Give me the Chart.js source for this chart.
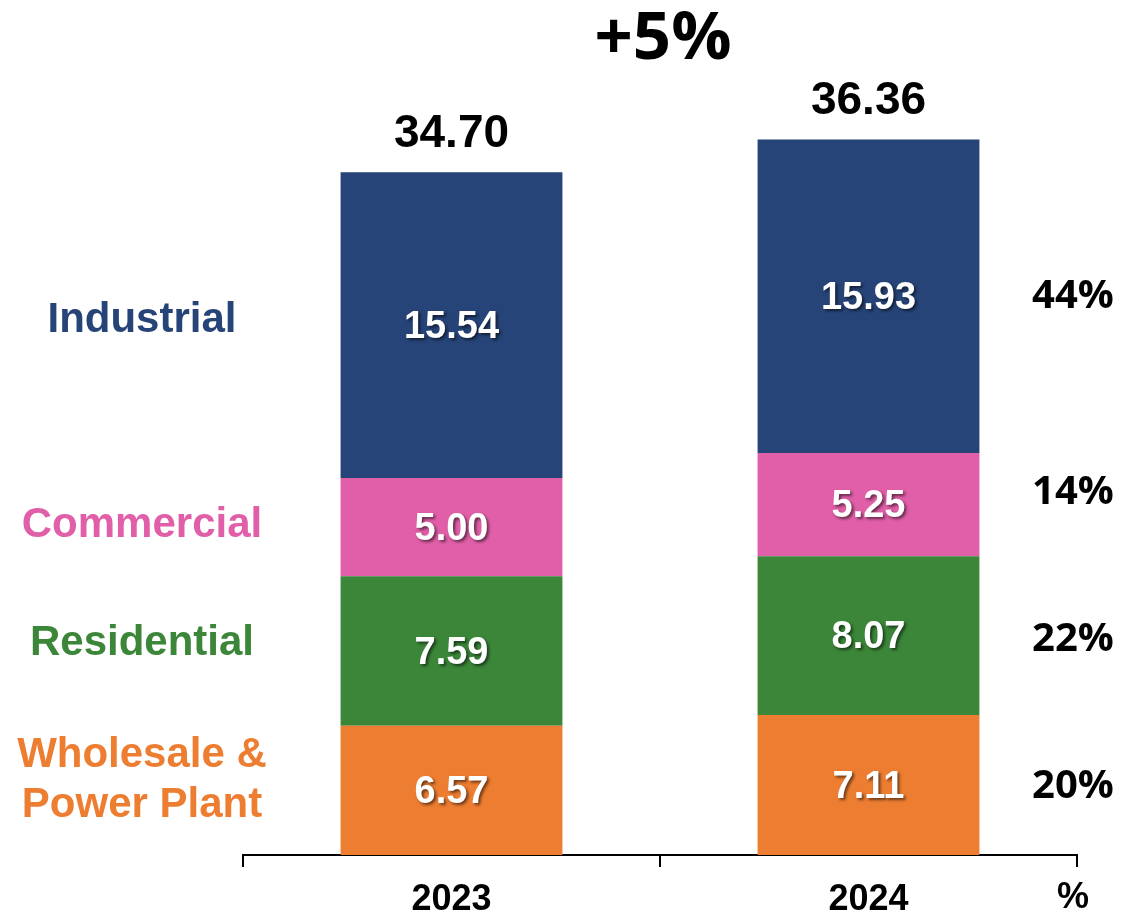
<!DOCTYPE html>
<html>
<head>
<meta charset="utf-8">
<script src="https://cdn.jsdelivr.net/npm/chart.js@4.4.1/dist/chart.umd.min.js"></script>
<style>
  html, body { margin: 0; padding: 0; background: #fff; overflow: hidden; }
  canvas { display: block; }
</style>
</head>
<body>
<canvas id="c" width="1124" height="933"></canvas>
<script>
const years = ['2023', '2024'];
const wholesale = [6.57, 7.11];
const residential = [7.59, 8.07];
const commercial = [5.00, 5.25];
const industrial = [15.54, 15.93];
const totals = [34.70, 36.36];
const shareLabels2024 = ['20%', '22%', '14%', '44%'];
const growthLabel = '+5%';
const unitLabel = '%';
const seriesNames = [['Wholesale &', 'Power Plant'], ['Residential'], ['Commercial'], ['Industrial']];
const seriesColors = ['#ED7D31', '#3B8638', '#E05FA8', '#264478'];

const ARIAL = '"Liberation Sans", Arial, sans-serif';
const OPEN = '"Open Sans", sans-serif';

const labelPlugin = {
  id: 'labels',
  afterDatasetsDraw(chart) {
    const ctx = chart.ctx;
    const n = chart.data.datasets.length;
    ctx.save();
    ctx.textAlign = 'center';
    ctx.textBaseline = 'middle';
    for (let i = 0; i < n; i++) {
      const meta = chart.getDatasetMeta(i);
      meta.data.forEach((el, j) => {
        const v = chart.data.datasets[i].data[j];
        const cy = (el.y + el.base) / 2;
        ctx.save();
        ctx.font = 'bold 38px ' + ARIAL;
        ctx.fillStyle = '#fff';
        ctx.shadowColor = 'rgba(0,0,0,0.55)';
        ctx.shadowOffsetX = 2;
        ctx.shadowOffsetY = 2;
        ctx.shadowBlur = 3;
        ctx.fillText(v.toFixed(2), el.x, cy + 2);
        ctx.restore();
      });
    }
    const top = chart.getDatasetMeta(n - 1);
    top.data.forEach((el, j) => {
      ctx.font = 'bold 46px ' + ARIAL;
      ctx.fillStyle = '#000';
      ctx.fillText(totals[j].toFixed(2), el.x, el.y - 38);
    });
    const leftOffsets = [-10, -8, -2, -5];
    for (let i = 0; i < n; i++) {
      const el = chart.getDatasetMeta(i).data[0];
      const cy = (el.y + el.base) / 2 + leftOffsets[i];
      const lines = seriesNames[i];
      ctx.font = 'bold 42px ' + ARIAL;
      ctx.fillStyle = seriesColors[i];
      const lh = 50;
      lines.forEach((ln, k) => {
        ctx.fillText(ln, 142, cy + (k - (lines.length - 1) / 2) * lh);
      });
    }
    const rightOffsets = [2, 4, -12, 0];
    for (let i = 0; i < n; i++) {
      const el = chart.getDatasetMeta(i).data[1];
      const cy = (el.y + el.base) / 2 + rightOffsets[i];
      ctx.font = 'bold 40px ' + OPEN;
      ctx.fillStyle = '#000';
      ctx.fillText(shareLabels2024[i], 1073, cy);
    }
    ctx.font = 'bold 67px ' + OPEN;
    ctx.fillStyle = '#000';
    ctx.fillText(growthLabel, 663, 40);
    ctx.font = 'bold 36px ' + ARIAL;
    ctx.fillText(unitLabel, 1073, 898);
    ctx.restore();
  }
};

new Chart(document.getElementById('c'), {
  type: 'bar',
  data: {
    labels: years,
    datasets: [
      { label: 'Wholesale & Power Plant', data: wholesale, backgroundColor: seriesColors[0] },
      { label: 'Residential', data: residential, backgroundColor: seriesColors[1] },
      { label: 'Commercial', data: commercial, backgroundColor: seriesColors[2] },
      { label: 'Industrial', data: industrial, backgroundColor: seriesColors[3] }
    ]
  },
  options: {
    responsive: false,
    animation: false,
    devicePixelRatio: 1,
    layout: { padding: { left: 243, right: 47, top: 0, bottom: 0 } },
    datasets: { bar: { categoryPercentage: 1.0, barPercentage: 0.532, borderWidth: 0 } },
    plugins: { legend: { display: false }, tooltip: { enabled: false } },
    scales: {
      x: {
        stacked: true,
        grid: { display: true, drawOnChartArea: false, drawTicks: true, tickLength: 12, color: '#000', lineWidth: 2, offset: true },
        border: { display: true, color: '#000', width: 2 },
        ticks: { color: '#000', font: { family: ARIAL, size: 36, weight: 'bold', lineHeight: 1.0 }, padding: 15 }
      },
      y: {
        stacked: true,
        display: false,
        min: 0,
        max: 43.45
      }
    }
  },
  plugins: [labelPlugin]
});
</script>
</body>
</html>
